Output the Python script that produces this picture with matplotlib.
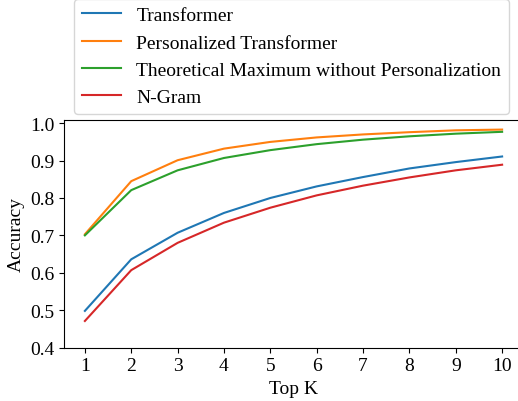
import matplotlib.pyplot as plt
import numpy as np

plt.rcParams["font.family"] = ["Liberation Serif", "DejaVu Serif"]

# Data
top_k = [1, 2, 3, 4, 5, 6, 7, 8, 9, 10]
transformer = [0.498, 0.636, 0.707, 0.760, 0.800, 0.831, 0.856, 0.879, 0.896, 0.911]
personalized = [0.703, 0.845, 0.901, 0.932, 0.950, 0.962, 0.970, 0.976, 0.981, 0.983]
theoretical_max = [0.700, 0.821, 0.874, 0.907, 0.928, 0.944, 0.956, 0.965, 0.972, 0.977]
ngram = [0.471, 0.607, 0.680, 0.734, 0.774, 0.807, 0.833, 0.855, 0.874, 0.889]

fig = plt.figure(figsize=(5.18, 4.02), dpi=100)
ax = fig.add_axes([0.1236, 0.133, 0.886, 0.566])

ax.plot(top_k, transformer, color="#1f77b4", label="Transformer")
ax.plot(top_k, personalized, color="#ff7f0e", label="Personalized Transformer")
ax.plot(top_k, theoretical_max, color="#2ca02c",
        label="Theoretical Maximum without Personalization")
ax.plot(top_k, ngram, color="#d62728", label="N-Gram")

ax.set_ylim(bottom=0.4)
ax.set_xticks(top_k)
ax.set_yticks(np.arange(0.4, 1.01, 0.1))
ax.set_xlabel("Top K", fontsize=14)
ax.set_ylabel("Accuracy", fontsize=14)
ax.tick_params(labelsize=14)

ax.legend(loc="lower center", bbox_to_anchor=(0.563, 0.714),
          bbox_transform=fig.transFigure, fontsize=14, borderaxespad=0)

fig.savefig("out.png", dpi=100)
